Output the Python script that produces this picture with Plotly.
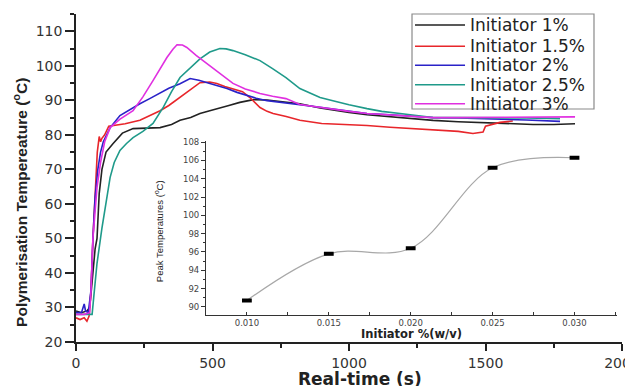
import plotly.graph_objects as go

# ---------------- data ----------------
t_1 = [0, 20, 40, 50, 55, 62, 70, 77, 85, 95, 110, 136, 170, 209, 260, 308, 350, 381, 420, 454,
       490, 527, 560, 600, 650, 700, 722, 770, 820, 894, 950, 1000, 1066, 1150, 1250, 1308, 1400,
       1500, 1600, 1674, 1750, 1828]
T_1 = [29, 28.5, 29, 30, 34, 40, 47, 50, 63, 70, 75, 77.5, 80.5, 81.8, 82, 82.1, 83, 84.2, 85, 86.2,
       87, 87.9, 88.5, 89.4, 90.2, 90.1, 89.9, 89.5, 89, 87.8, 87, 86.5, 85.8, 85.2, 84.6, 84.2, 83.8,
       83.5, 83.2, 83, 83, 83.2]

t_15 = [0, 15, 30, 40, 48, 55, 62, 70, 78, 85, 90, 95, 105, 120, 143, 180, 234, 270, 308, 340, 381,
        420, 454, 490, 516, 545, 575, 610, 637, 660, 674, 700, 722, 770, 820, 900, 1000, 1066, 1150,
        1250, 1308, 1400, 1454, 1491, 1500, 1520, 1553, 1600]
T_15 = [27, 26.5, 27, 26, 27.5, 35, 50, 65, 75, 79.5, 78, 79, 80, 82.5, 82.7, 83.2, 84.2, 85.5, 87,
        88.5, 90.8, 93, 95.1, 95.3, 94.9, 94, 93.4, 92.5, 90.8, 89, 87.9, 86.8, 86.2, 85.3, 84.2, 83.3,
        83, 82.7, 82.2, 81.7, 81.3, 81, 80.4, 80.8, 82.5, 83, 83.6, 84]

t_2 = [0, 20, 30, 35, 45, 55, 62, 70, 80, 90, 100, 125, 161, 200, 234, 270, 308, 340, 381, 418, 450,
       480, 515, 553, 590, 626, 660, 700, 760, 820, 894, 950, 1066, 1150, 1250, 1308, 1400, 1500,
       1553, 1650, 1773]
T_2 = [28.5, 28.5, 31, 29, 28.5, 35, 50, 62, 70, 75, 78, 82.1, 85.6, 87.5, 89, 90.5, 92, 93.5, 94.8,
       96.3, 95.8, 95.1, 94.3, 93.4, 92.3, 91.4, 90.6, 89.9, 89.4, 88.7, 88, 87.4, 86.2, 85.8, 85.3,
       85, 84.9, 84.7, 84.7, 84.3, 83.9]

t_25 = [0, 30, 59, 65, 77, 95, 113, 125, 140, 161, 185, 209, 245, 282, 320, 350, 381, 420, 454, 490,
        527, 550, 575, 620, 674, 720, 769, 820, 894, 941, 1000, 1066, 1120, 1187, 1250, 1308, 1400,
        1500, 1553, 1650, 1773]
T_25 = [28, 28, 28, 33, 42.8, 53, 61.9, 67.7, 72, 75.5, 77.5, 79.2, 81, 83.3, 88, 92.5, 96.6, 99.5,
        102, 104, 105, 104.9, 104.4, 103.2, 101.5, 99.2, 96.6, 93.4, 90.8, 89.9, 88.7, 87.6, 86.8,
        86.2, 85.6, 85, 85, 85, 85, 84.9, 84.7]

t_3 = [0, 30, 50, 55, 62, 70, 77, 90, 105, 125, 160, 209, 245, 282, 310, 333, 355, 370, 390, 406,
       440, 480, 530, 575, 620, 674, 720, 769, 820, 894, 1000, 1066, 1200, 1308, 1400, 1553, 1700, 1828]
T_3 = [28, 28, 28.5, 35, 50, 58, 64.8, 72, 78, 82.1, 84.5, 87, 91, 95.7, 99.5, 102.4, 104.8, 106.1,
       106, 105.3, 103, 100.6, 97.5, 94.9, 93.3, 92, 91.2, 90.5, 88.8, 87.9, 86.8, 86.2, 85.5, 85, 85,
       85, 85, 85.2]

series_names = ["Initiator 1%", "Initiator 1.5%", "Initiator 2%", "Initiator 2.5%", "Initiator 3%"]
series_colors = ["#222222", "#e8262b", "#2a22c8", "#1f9a8a", "#e030e0"]

inset_conc = [0.010, 0.015, 0.020, 0.025, 0.030]
inset_peak = [90.7, 95.8, 96.4, 105.2, 106.3]

x_ticks = [0, 500, 1000, 1500, 2000]
x_ticklabels = ["0", "500", "1000", "1500", "2000"]
y_ticks = [20, 30, 40, 50, 60, 70, 80, 90, 100, 110]
inset_xticks = [0.010, 0.015, 0.020, 0.025, 0.030]
inset_xlabels = ["0.010", "0.015", "0.020", "0.025", "0.030"]
inset_yticks = [90, 92, 94, 96, 98, 100, 102, 104, 106, 108]

# ---------------- figure ----------------
# page has an 8px body margin; figure is sized so that it fills the 633x386 window
fig = go.Figure()
all_t = [t_1, t_15, t_2, t_25, t_3]
all_T = [T_1, T_15, T_2, T_25, T_3]
for name, col, tt, TT in zip(series_names, series_colors, all_t, all_T):
    fig.add_trace(go.Scatter(x=tt, y=TT, mode="lines", name=name, showlegend=False,
                             line=dict(color=col, width=1.6), xaxis="x", yaxis="y"))

fig.add_trace(go.Scatter(x=inset_conc, y=inset_peak, mode="lines",
                         line=dict(color="#a8a8a8", width=1.2, shape="spline", smoothing=1.0),
                         showlegend=False, xaxis="x2", yaxis="y2"))
fig.add_trace(go.Scatter(x=inset_conc, y=inset_peak, mode="markers",
                         marker=dict(symbol="line-ew", size=7, color="black",
                                     line=dict(color="black", width=4)),
                         showlegend=False, xaxis="x2", yaxis="y2"))

tickfont = dict(family="DejaVu Sans, sans-serif", size=14, color="#333333")
insetfont = dict(family="DejaVu Sans, sans-serif", size=8.5, color="#444444")

# manual legend (box, line samples and texts), positioned in plot-area (paper) coordinates
leg_x0, leg_x1, leg_y0, leg_y1 = 0.6154, 0.9487, 0.7104, 1.0
leg_rows = [0.9665, 0.9015, 0.8436, 0.7845, 0.7265]
shapes = [dict(type="rect", xref="paper", yref="paper", x0=leg_x0, x1=leg_x1, y0=leg_y0, y1=leg_y1,
               line=dict(color="#8a8a8a", width=1.2), fillcolor="white", layer="above")]
annotations = []
for name, col, yy in zip(series_names, series_colors, leg_rows):
    shapes.append(dict(type="line", xref="paper", yref="paper", x0=0.6209, x1=0.7125, y0=yy, y1=yy,
                       line=dict(color=col, width=1.6), layer="above"))
    annotations.append(dict(text=name, xref="paper", yref="paper", x=0.7180, y=yy,
                            xanchor="left", yanchor="middle", showarrow=False,
                            font=dict(family="DejaVu Sans, sans-serif", size=17, color="#222222")))

annotations += [
    dict(text="<b>Polymerisation Tempereature (<sup>o</sup>C)</b>", textangle=-90,
         xref="paper", yref="paper", x=-0.1026, y=0.427, xanchor="center", yanchor="middle",
         showarrow=False, font=dict(family="Liberation Sans, Arial, sans-serif", size=15.5, color="#222222")),
    dict(text="<b>Real-time (s)</b>",
         xref="paper", yref="paper", x=0.52, y=-0.112, xanchor="center", yanchor="middle",
         showarrow=False, font=dict(family="DejaVu Sans, sans-serif", size=17, color="#222222")),
    dict(text="Peak Temperatures (<sup>o</sup>C)", textangle=-90,
         xref="paper", yref="paper", x=0.152, y=0.338, xanchor="center", yanchor="middle",
         showarrow=False, font=dict(family="Liberation Sans, Arial, sans-serif", size=9.5, color="#222222")),
    dict(text="<b>Initiator %(w/v)</b>",
         xref="paper", yref="paper", x=0.614, y=0.024, xanchor="center", yanchor="middle",
         showarrow=False, font=dict(family="DejaVu Sans, sans-serif", size=11.5, color="#222222")),
]

fig.update_layout(
    width=625, height=378,
    margin=dict(l=68, r=11, t=6, b=44, autoexpand=False),
    paper_bgcolor="white", plot_bgcolor="white",
    showlegend=False,
    xaxis=dict(range=[0, 2000], tickvals=x_ticks, ticktext=x_ticklabels, automargin=False,
               ticklabeloverflow="allow",
               showgrid=False, zeroline=False, showline=True, linecolor="#222222", linewidth=1.5,
               ticks="outside", ticklen=7, tickwidth=1.5, tickcolor="#222222",
               minor=dict(dtick=250, ticks="outside", ticklen=4, tickwidth=1.5, tickcolor="#222222"),
               tickfont=tickfont),
    yaxis=dict(range=[20, 115], tickvals=y_ticks, automargin=False,
               showgrid=False, zeroline=False, showline=True, linecolor="#222222", linewidth=1.5,
               ticks="outside", ticklen=9, tickwidth=1.5, tickcolor="#222222",
               minor=dict(dtick=5, ticks="outside", ticklen=4, tickwidth=1.5, tickcolor="#222222"),
               tickfont=tickfont),
    xaxis2=dict(domain=[0.238, 0.991], anchor="y2", range=[0.0075, 0.0326], automargin=False,
                tickvals=inset_xticks, ticktext=inset_xlabels,
                showgrid=False, zeroline=False, showline=True, linecolor="#333333", linewidth=1,
                ticks="inside", ticklen=3, tickcolor="#333333",
                minor=dict(dtick=0.0025, tick0=0.0, ticks="inside", ticklen=3, tickcolor="#333333"),
                tickfont=insetfont),
    yaxis2=dict(domain=[0.082, 0.612], anchor="x2", range=[89.1, 108.1], automargin=False,
                tickvals=inset_yticks,
                showgrid=False, zeroline=False, showline=True, linecolor="#333333", linewidth=1,
                ticks="outside", ticklen=4, tickcolor="#333333",
                minor=dict(dtick=1, ticks="outside", ticklen=2, tickcolor="#333333"),
                tickfont=insetfont),
    shapes=shapes,
    annotations=annotations,
)

fig.write_html("out.html")
